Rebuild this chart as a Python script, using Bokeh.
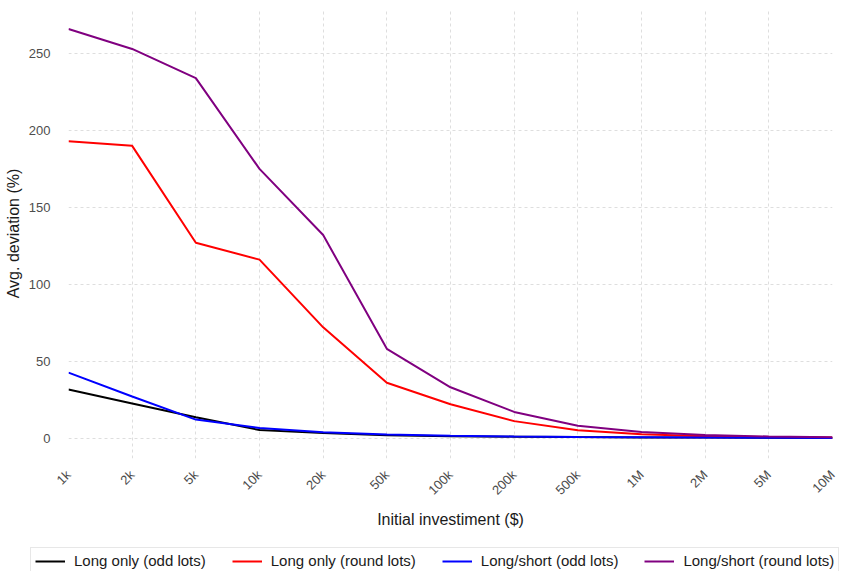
import math
from bokeh.plotting import figure
from bokeh.layouts import column
from bokeh.models import Range1d, FixedTicker, Legend, LegendItem
from bokeh.embed import file_html
from bokeh.resources import INLINE

investments = ["1k", "2k", "5k", "10k", "20k", "50k", "100k", "200k", "500k", "1M", "2M", "5M", "10M"]
long_odd = [31.5, 22.5, 13.5, 5.2, 3.2, 1.8, 1.2, 0.9, 0.6, 0.4, 0.3, 0.2, 0.1]
long_round = [193, 190, 127, 116, 72, 36, 22, 11, 5, 2.5, 1.2, 0.6, 0.3]
ls_odd = [42.5, 27, 12, 6.5, 3.8, 2.3, 1.5, 1.0, 0.7, 0.5, 0.3, 0.2, 0.1]
ls_round = [266, 253, 234, 175, 132, 58, 33, 17, 8, 4, 2, 1, 0.5]

series_names = ["Long only (odd lots)", "Long only (round lots)", "Long/short (odd lots)", "Long/short (round lots)"]
series_colors = ["black", "red", "blue", "purple"]
series_values = [long_odd, long_round, ls_odd, ls_round]

FONT = "Liberation Sans"
x_idx = list(range(len(investments)))

# main chart
p = figure(width=852, height=543, output_backend="svg", toolbar_location=None,
           x_range=Range1d(0, len(investments) - 1), y_range=Range1d(-13.3, 279.3),
           min_border_left=68, min_border_right=20, min_border_top=8, min_border_bottom=85)
p.outline_line_color = None

for name, color, vals in zip(series_names, series_colors, series_values):
    p.line(x_idx, vals, line_color=color, line_width=2)

p.xaxis.ticker = FixedTicker(ticks=x_idx)
p.xaxis.major_label_overrides = {i: lab for i, lab in enumerate(investments)}
p.xaxis.major_label_orientation = math.pi / 4
p.yaxis.ticker = FixedTicker(ticks=[0, 50, 100, 150, 200, 250])

for ax in (p.xaxis[0], p.yaxis[0]):
    ax.axis_line_color = None
    ax.major_tick_line_color = None
    ax.minor_tick_line_color = None
    ax.major_label_text_font = FONT
    ax.major_label_text_color = "#4d4d4d"
    ax.major_label_text_font_size = "13px"
    ax.axis_label_text_font = FONT
    ax.axis_label_text_font_style = "normal"
    ax.axis_label_text_font_size = "16px"
    ax.axis_label_text_color = "#1a1a1a"

p.xaxis.axis_label = "Initial investiment ($)"
p.yaxis.axis_label = "Avg. deviation (%)"
p.xaxis.major_label_standoff = 8
p.xaxis.axis_label_standoff = 5
p.yaxis.major_label_standoff = 12
p.yaxis.axis_label_standoff = 4

for g in (p.xgrid[0], p.ygrid[0]):
    g.grid_line_color = "#dedede"
    g.grid_line_dash = "3 3"
    g.grid_line_width = 1

# legend strip
lg = figure(width=852, height=28, output_backend="svg", toolbar_location=None,
            x_axis_type=None, y_axis_type=None,
            x_range=Range1d(1000, 1001), y_range=Range1d(1000, 1001),
            min_border_left=0, min_border_right=0, min_border_top=0, min_border_bottom=0)
lg.frame_align = False
lg.outline_line_color = None
lg.grid.visible = False
items = []
for name, color, vals in zip(series_names, series_colors, series_values):
    r = lg.line(x_idx, vals, line_color=color, line_width=2)
    items.append(LegendItem(label=name, renderers=[r]))

legend = Legend(items=items, orientation="horizontal", location=(30, -3))
legend.label_text_font = FONT
legend.label_text_font_size = "15px"
legend.label_text_color = "#1a1a1a"
legend.glyph_width = 30
legend.glyph_height = 16
legend.label_standoff = 9
legend.spacing = 26
legend.padding = 4
legend.margin = 0
legend.border_line_color = "#d0d0d0"
legend.border_line_width = 1.5
legend.background_fill_alpha = 1
lg.add_layout(legend, "center")

layout = column(p, lg, spacing=0)
open("out.html", "w").write(file_html(layout, INLINE))
